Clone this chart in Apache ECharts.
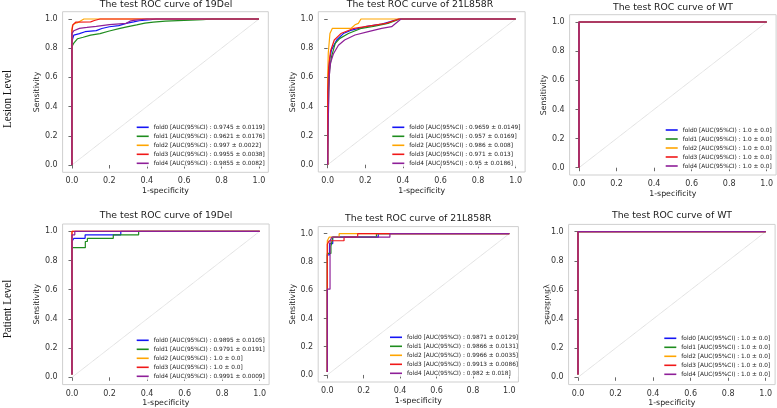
<!DOCTYPE html>
<html><head><meta charset="utf-8">
<script src="https://cdn.jsdelivr.net/npm/echarts@6/dist/echarts.min.js"></script>
<style>html,body{margin:0;padding:0;background:#fff}#c{width:777px;height:408px}</style>
</head><body><div id="c"></div>
<script>
// ---------------- DATA ----------------
const tickValues = [0, 0.2, 0.4, 0.6, 0.8, 1.0];
const rowLabels = ['Lesion Level', 'Patient Level'];
const panelTitles = [
  'The test ROC curve of 19Del', 'The test ROC curve of 21L858R', 'The test ROC curve of WT',
  'The test ROC curve of 19Del', 'The test ROC curve of 21L858R', 'The test ROC curve of WT'
];
const xAxisName = '1-specificity';
const yAxisName = 'Sensitivity';
const foldLabels = ['fold0', 'fold1', 'fold2', 'fold3', 'fold4'];

const aucLesion19Del    = ['0.9745 ± 0.0119', '0.9621 ± 0.0176', '0.997 ± 0.0022', '0.9955 ± 0.0038', '0.9855 ± 0.0082'];
const aucLesion21L858R  = ['0.9659 ± 0.0149', '0.957 ± 0.0169', '0.986 ± 0.008', '0.971 ± 0.013', '0.95 ± 0.0186'];
const aucLesionWT       = ['1.0 ± 0.0', '1.0 ± 0.0', '1.0 ± 0.0', '1.0 ± 0.0', '1.0 ± 0.0'];
const aucPatient19Del   = ['0.9895 ± 0.0105', '0.9791 ± 0.0191', '1.0 ± 0.0', '1.0 ± 0.0', '0.9991 ± 0.0009'];
const aucPatient21L858R = ['0.9871 ± 0.0129', '0.9866 ± 0.0131', '0.9966 ± 0.0035', '0.9913 ± 0.0086', '0.982 ± 0.018'];
const aucPatientWT      = ['1.0 ± 0.0', '1.0 ± 0.0', '1.0 ± 0.0', '1.0 ± 0.0', '1.0 ± 0.0'];

const chanceLine = [[0, 0], [1, 1]];

// Lesion level, 19Del  ([FPR, TPR])
const rocL19Del_f0 = [[0,0],[0,0.845],[0.005,0.87],[0.01,0.89],[0.04,0.9],[0.07,0.913],[0.13,0.92],[0.16,0.935],[0.2,0.947],[0.25,0.955],[0.29,0.97],[0.33,0.98],[0.36,0.988],[0.42,0.995],[0.45,1],[1,1]];
const rocL19Del_f1 = [[0,0],[0,0.81],[0.01,0.835],[0.03,0.865],[0.06,0.875],[0.1,0.89],[0.15,0.9],[0.2,0.918],[0.257,0.936],[0.3,0.948],[0.346,0.96],[0.39,0.972],[0.435,0.979],[0.5,0.985],[0.6,0.99],[0.7,0.995],[0.75,1],[1,1]];
const rocL19Del_f2 = [[0,0],[0,0.93],[0.003,0.957],[0.016,0.97],[0.03,0.975],[0.05,0.99],[0.064,1],[1,1]];
const rocL19Del_f3 = [[0,0],[0,0.92],[0.005,0.96],[0.02,0.978],[0.1,0.98],[0.12,0.99],[0.15,1],[1,1]];
const rocL19Del_f4 = [[0,0],[0,0.9],[0.01,0.92],[0.04,0.936],[0.08,0.942],[0.13,0.95],[0.2,0.962],[0.29,0.97],[0.31,0.985],[0.33,0.99],[0.4,1],[1,1]];

// Lesion level, 21L858R
const rocL21L858R_f0 = [[0,0],[0,0.3],[0.005,0.6],[0.01,0.72],[0.02,0.787],[0.048,0.856],[0.083,0.9],[0.128,0.924],[0.2,0.947],[0.287,0.965],[0.33,0.98],[0.376,1],[1,1]];
const rocL21L858R_f1 = [[0,0],[0,0.09],[0.005,0.5],[0.01,0.65],[0.02,0.74],[0.04,0.833],[0.065,0.867],[0.11,0.9],[0.18,0.936],[0.25,0.95],[0.32,0.97],[0.385,1],[1,1]];
const rocL21L858R_f2 = [[0,0],[0,0.6],[0.003,0.765],[0.012,0.9],[0.025,0.936],[0.125,0.936],[0.145,0.96],[0.163,0.97],[0.177,1],[1,1]];
const rocL21L858R_f3 = [[0,0],[0,0.5],[0.005,0.67],[0.015,0.78],[0.035,0.856],[0.07,0.9],[0.14,0.936],[0.234,0.955],[0.31,0.97],[0.38,1],[1,1]];
const rocL21L858R_f4 = [[0,0],[0.003,0.3],[0.008,0.6],[0.015,0.7],[0.03,0.76],[0.057,0.82],[0.09,0.856],[0.145,0.89],[0.216,0.913],[0.287,0.936],[0.34,0.947],[0.39,1],[1,1]];

// Lesion level, WT
const rocLWT_f0 = [[0,0],[0,1],[1,1]];
const rocLWT_f1 = [[0,0],[0,1],[1,1]];
const rocLWT_f2 = [[0,0],[0,1],[1,1]];
const rocLWT_f3 = [[0,0],[0,1],[1,1]];
const rocLWT_f4 = [[0,0],[0,1],[1,1]];

// Patient level, 19Del
const rocP19Del_f0 = [[0,0.02],[0,0.93],[0.01,0.93],[0.01,0.952],[0.07,0.952],[0.07,0.976],[0.26,0.976],[0.26,1],[1,1]];
const rocP19Del_f1 = [[0,0.02],[0,0.888],[0.071,0.888],[0.071,0.93],[0.082,0.93],[0.082,0.952],[0.22,0.952],[0.22,0.976],[0.355,0.976],[0.355,1],[1,1]];
const rocP19Del_f2 = [[0,0.02],[0,1],[1,1]];
const rocP19Del_f3 = [[0,0.02],[0,1],[1,1]];
const rocP19Del_f4 = [[0,0.02],[0,0.976],[0.015,0.976],[0.015,1],[1,1]];

// Patient level, 21L858R
const rocP21L858R_f0 = [[0,0.02],[0,0.85],[0.012,0.85],[0.012,0.93],[0.03,0.93],[0.03,0.975],[0.28,0.975],[0.28,1],[1,1]];
const rocP21L858R_f1 = [[0,0.02],[0,0.86],[0.02,0.86],[0.02,0.91],[0.03,0.91],[0.03,0.975],[0.27,0.975],[0.27,1],[1,1]];
const rocP21L858R_f2 = [[0,0.02],[0,0.95],[0.01,0.95],[0.01,0.975],[0.065,0.975],[0.065,1],[1,1]];
const rocP21L858R_f3 = [[0,0.02],[0,0.925],[0.01,0.925],[0.01,0.95],[0.092,0.95],[0.092,0.975],[0.167,0.975],[0.167,1],[1,1]];
const rocP21L858R_f4 = [[0,0.02],[0,0.607],[0.015,0.607],[0.015,0.95],[0.025,0.95],[0.025,0.975],[0.344,0.975],[0.344,1],[1,1]];

// Patient level, WT
const rocPWT_f0 = [[0,0.02],[0,1],[1,1]];
const rocPWT_f1 = [[0,0.02],[0,1],[1,1]];
const rocPWT_f2 = [[0,0.02],[0,1],[1,1]];
const rocPWT_f3 = [[0,0.02],[0,1],[1,1]];
const rocPWT_f4 = [[0,0.02],[0,1],[1,1]];

// ---------------- ASSEMBLY ----------------
const panelCurves = [
  [rocL19Del_f0, rocL19Del_f1, rocL19Del_f2, rocL19Del_f3, rocL19Del_f4],
  [rocL21L858R_f0, rocL21L858R_f1, rocL21L858R_f2, rocL21L858R_f3, rocL21L858R_f4],
  [rocLWT_f0, rocLWT_f1, rocLWT_f2, rocLWT_f3, rocLWT_f4],
  [rocP19Del_f0, rocP19Del_f1, rocP19Del_f2, rocP19Del_f3, rocP19Del_f4],
  [rocP21L858R_f0, rocP21L858R_f1, rocP21L858R_f2, rocP21L858R_f3, rocP21L858R_f4],
  [rocPWT_f0, rocPWT_f1, rocPWT_f2, rocPWT_f3, rocPWT_f4]
];
const panelAUC = [aucLesion19Del, aucLesion21L858R, aucLesionWT, aucPatient19Del, aucPatient21L858R, aucPatientWT];

// styles / layout
const FONT = 'DejaVu Sans';
const foldColors = ['#1515f5', '#1e8c1e', '#ffa500', '#f01818', '#8e1f98'];
const grids = [
  {left: 62.6, top: 11.7, width: 205.7, height: 160.6},
  {left: 318.3, top: 11.7, width: 206.8, height: 160.3},
  {left: 569.6, top: 14.7, width: 206.5, height: 160.3},
  {left: 62.6, top: 224.0, width: 206.5, height: 160.6},
  {left: 318.2, top: 226.6, width: 200.2, height: 155.4},
  {left: 568.6, top: 224.4, width: 206.5, height: 160.2}
];
const titlePos = [[166, 0], [420, 0], [673, 3], [166, 211.5], [418.3, 214.5], [672, 211.5]];
const legendPos = [[136.7, 123.8], [392.3, 123.8], [665.7, 126.5], [136.7, 336.8], [390, 333.8], [664.3, 334.8]];

const option = {
  animation: false,
  backgroundColor: '#ffffff',
  textStyle: {fontFamily: FONT},
  grid: [], xAxis: [], yAxis: [], series: [], legend: [], title: [], graphic: []
};

for (let p = 0; p < 6; p++) {
  const g = grids[p];
  option.grid.push(Object.assign({show: true, borderColor: '#cfcfcf', borderWidth: 1,
    backgroundColor: 'transparent', containLabel: false, outerBoundsMode: 'none'}, g));
  option.xAxis.push({
    type: 'value', gridIndex: p, min: -0.05, max: 1.05,
    axisLine: {show: false}, splitLine: {show: false},
    axisTick: {show: true, inside: false, length: 3.5, customValues: tickValues, lineStyle: {color: '#444', width: 0.8}},
    axisLabel: {customValues: tickValues, formatter: v => v.toFixed(1), fontSize: 8, color: '#333', margin: 5, fontFamily: FONT},
    name: xAxisName, nameLocation: 'middle', nameGap: 14.5,
    nameTextStyle: {fontSize: 7.8, color: '#222', fontFamily: FONT}
  });
  const mirrored = (p === 5);
  option.yAxis.push({
    type: 'value', gridIndex: p, min: -0.05, max: 1.05,
    axisLine: {show: false}, splitLine: {show: false},
    axisTick: {show: true, inside: false, length: 3.5, customValues: tickValues, lineStyle: {color: '#444', width: 0.8}},
    axisLabel: {customValues: tickValues, formatter: v => v.toFixed(1), fontSize: 8, color: '#333', margin: 5, fontFamily: FONT},
    name: mirrored ? '' : yAxisName, nameLocation: 'middle', nameGap: 19,
    nameTextStyle: {fontSize: 7.8, color: '#222', fontFamily: FONT}
  });
  option.title.push({
    text: panelTitles[p], left: titlePos[p][0], top: titlePos[p][1], textAlign: 'center', padding: 0,
    textStyle: {fontSize: 9.3, fontWeight: 'normal', color: '#1a1a1a', fontFamily: FONT}
  });
  // chance diagonal
  option.series.push({
    type: 'line', name: 'chance' + p, xAxisIndex: p, yAxisIndex: p, data: chanceLine,
    symbol: 'none', silent: true, z: 1,
    lineStyle: {color: '#b4b4b4', width: 0.7, type: 'dotted'}
  });
  const names = [];
  for (let f = 0; f < 5; f++) {
    const nm = foldLabels[f] + ' [AUC(95%CI) : ' + panelAUC[p][f] + ']';
    names.push(nm);
    option.series.push({
      type: 'line', name: nm, xAxisIndex: p, yAxisIndex: p, data: panelCurves[p][f],
      symbol: 'none', showSymbol: false, z: 2 + f, color: foldColors[f],
      itemStyle: {color: foldColors[f]},
      lineStyle: {color: foldColors[f], width: 1.2}
    });
  }
  option.legend.push({
    orient: 'vertical', left: legendPos[p][0], top: legendPos[p][1], padding: 0,
    icon: 'rect', itemWidth: 12, itemHeight: 1.6, itemGap: 2, selectedMode: false, data: names,
    backgroundColor: 'rgba(255,255,255,0.85)', z: 10,
    textStyle: {fontSize: 5.8, lineHeight: 7, color: '#222', fontFamily: FONT}
  });
}

// row labels
option.graphic.push({type: 'text', x: 8, y: 99, rotation: Math.PI / 2, scaleX: 0.85,
  style: {text: rowLabels[0], font: '13px "Liberation Serif"', fill: '#111', align: 'center', verticalAlign: 'middle'}});
option.graphic.push({type: 'text', x: 8, y: 309, rotation: Math.PI / 2, scaleX: 0.85,
  style: {text: rowLabels[1], font: '13px "Liberation Serif"', fill: '#111', align: 'center', verticalAlign: 'middle'}});
// mirrored y-axis label of bottom-right panel
option.graphic.push({type: 'text', x: 546.7, y: 304.5, rotation: Math.PI / 2, scaleY: -1,
  style: {text: yAxisName, font: '7.8px "DejaVu Sans"', fill: '#222', align: 'center', verticalAlign: 'middle'}});

const chart = echarts.init(document.getElementById('c'), null, {renderer: 'canvas'});
chart.setOption(option);
</script></body></html>
